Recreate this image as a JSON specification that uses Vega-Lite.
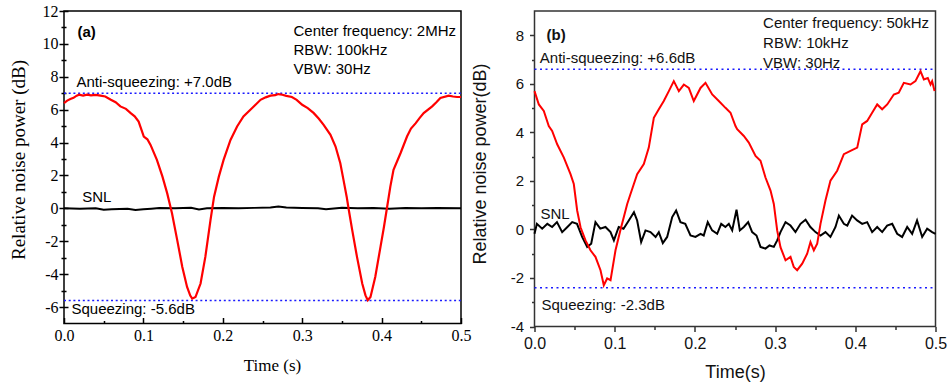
{
  "$schema": "https://vega.github.io/schema/vega-lite/v6.json",
  "background": "white",
  "padding": {"left": 8, "top": 2, "right": 0, "bottom": 0},
  "autosize": {"type": "pad"},
  "bounds": "flush",
  "spacing": 73.5,
  "config": {"axis": {"labelOverlap": false, "labelFlush": false, "grid": false}},
  "datasets": {
    "a_ref": [{"x": 0, "x2": 0.5, "y": 7.0}, {"x": 0, "x2": 0.5, "y": -5.6}],
    "b_ref": [{"x": 0, "x2": 0.5, "y": 6.6}, {"x": 0, "x2": 0.5, "y": -2.4}],
    "a_txt": [
      {"x": 0.289, "y": 10.81, "t": "Center frequency: 2MHz"},
      {"x": 0.289, "y": 9.65, "t": "RBW: 100kHz"},
      {"x": 0.289, "y": 8.49, "t": "VBW: 30Hz"},
      {"x": 0.0157, "y": 7.70, "t": "Anti-squeezing: +7.0dB"},
      {"x": 0.023, "y": 0.69, "t": "SNL"},
      {"x": 0.0094, "y": -6.14, "t": "Squeezing: -5.6dB"}
    ],
    "a_lab": [{"x": 0.017, "y": 10.75, "t": "(a)"}],
    "b_txt": [
      {"x": 0.285, "y": 8.50, "t": "Center frequency: 50kHz"},
      {"x": 0.285, "y": 7.68, "t": "RBW: 10kHz"},
      {"x": 0.285, "y": 6.86, "t": "VBW: 30Hz"},
      {"x": 0.0066, "y": 7.06, "t": "Anti-squeezing: +6.6dB"},
      {"x": 0.0075, "y": 0.64, "t": "SNL"},
      {"x": 0.0087, "y": -3.11, "t": "Squeezing: -2.3dB"}
    ],
    "b_lab": [{"x": 0.015, "y": 8.03, "t": "(b)"}],
    "a_red": [
      {"x": 0, "y": 6.40}, {"x": 0.004, "y": 6.55}, {"x": 0.008, "y": 6.65}, {"x": 0.012, "y": 6.72},
      {"x": 0.016, "y": 6.85}, {"x": 0.019, "y": 6.91}, {"x": 0.024, "y": 6.86}, {"x": 0.029, "y": 6.91},
      {"x": 0.034, "y": 6.87}, {"x": 0.040, "y": 6.90}, {"x": 0.046, "y": 6.85}, {"x": 0.052, "y": 6.80},
      {"x": 0.059, "y": 6.60}, {"x": 0.065, "y": 6.45}, {"x": 0.071, "y": 6.20}, {"x": 0.078, "y": 6.05},
      {"x": 0.084, "y": 5.79}, {"x": 0.089, "y": 5.60}, {"x": 0.094, "y": 5.28}, {"x": 0.1005, "y": 4.37},
      {"x": 0.105, "y": 4.20}, {"x": 0.109, "y": 3.86}, {"x": 0.117, "y": 2.95}, {"x": 0.124, "y": 1.93},
      {"x": 0.130, "y": 0.91}, {"x": 0.136, "y": -0.30}, {"x": 0.1426, "y": -1.93}, {"x": 0.149, "y": -3.56},
      {"x": 0.155, "y": -4.78}, {"x": 0.159, "y": -5.30}, {"x": 0.1615, "y": -5.49}, {"x": 0.1656, "y": -5.39},
      {"x": 0.172, "y": -4.57}, {"x": 0.178, "y": -2.95}, {"x": 0.1845, "y": -0.71}, {"x": 0.189, "y": 0.71},
      {"x": 0.195, "y": 1.93}, {"x": 0.201, "y": 2.95}, {"x": 0.2097, "y": 4.16}, {"x": 0.218, "y": 4.98},
      {"x": 0.226, "y": 5.59}, {"x": 0.237, "y": 6.10}, {"x": 0.2475, "y": 6.60}, {"x": 0.254, "y": 6.75},
      {"x": 0.260, "y": 6.85}, {"x": 0.266, "y": 6.88}, {"x": 0.270, "y": 6.95}, {"x": 0.275, "y": 6.91},
      {"x": 0.280, "y": 6.84}, {"x": 0.287, "y": 6.77}, {"x": 0.293, "y": 6.60}, {"x": 0.300, "y": 6.30},
      {"x": 0.307, "y": 6.10}, {"x": 0.3146, "y": 5.79}, {"x": 0.321, "y": 5.45}, {"x": 0.327, "y": 5.08},
      {"x": 0.3356, "y": 4.47}, {"x": 0.342, "y": 3.76}, {"x": 0.348, "y": 2.74}, {"x": 0.352, "y": 1.73},
      {"x": 0.356, "y": 0.71}, {"x": 0.3587, "y": -0.10}, {"x": 0.363, "y": -1.32}, {"x": 0.369, "y": -2.95},
      {"x": 0.3756, "y": -4.57}, {"x": 0.3797, "y": -5.29}, {"x": 0.3826, "y": -5.59}, {"x": 0.386, "y": -5.39},
      {"x": 0.392, "y": -4.17}, {"x": 0.3986, "y": -2.34}, {"x": 0.403, "y": -1.12}, {"x": 0.407, "y": 0.10},
      {"x": 0.411, "y": 1.32}, {"x": 0.415, "y": 2.34}, {"x": 0.4238, "y": 3.35}, {"x": 0.432, "y": 4.37},
      {"x": 0.437, "y": 4.85}, {"x": 0.443, "y": 5.18}, {"x": 0.448, "y": 5.50}, {"x": 0.453, "y": 5.79},
      {"x": 0.4637, "y": 6.20}, {"x": 0.469, "y": 6.45}, {"x": 0.474, "y": 6.71}, {"x": 0.4846, "y": 6.85},
      {"x": 0.490, "y": 6.80}, {"x": 0.495, "y": 6.77}, {"x": 0.5, "y": 6.77}
    ],
    "a_snl": [
      {"x": 0, "y": 0.0}, {"x": 0.02, "y": -0.03}, {"x": 0.04, "y": 0.0}, {"x": 0.05, "y": -0.08},
      {"x": 0.06, "y": -0.06}, {"x": 0.08, "y": -0.03}, {"x": 0.09, "y": -0.10}, {"x": 0.10, "y": -0.05},
      {"x": 0.11, "y": -0.02}, {"x": 0.12, "y": 0.02}, {"x": 0.14, "y": 0.0}, {"x": 0.16, "y": 0.03},
      {"x": 0.17, "y": -0.07}, {"x": 0.18, "y": 0.0}, {"x": 0.20, "y": 0.02}, {"x": 0.22, "y": 0.0},
      {"x": 0.24, "y": 0.03}, {"x": 0.26, "y": 0.06}, {"x": 0.27, "y": 0.12}, {"x": 0.28, "y": 0.05},
      {"x": 0.30, "y": 0.02}, {"x": 0.32, "y": 0.0}, {"x": 0.33, "y": -0.06}, {"x": 0.35, "y": 0.03},
      {"x": 0.37, "y": 0.0}, {"x": 0.39, "y": 0.02}, {"x": 0.41, "y": -0.03}, {"x": 0.43, "y": 0.02},
      {"x": 0.45, "y": 0.0}, {"x": 0.47, "y": 0.02}, {"x": 0.5, "y": 0.0}
    ],
    "b_red": [
      {"x": 0, "y": 5.70}, {"x": 0.0054, "y": 5.15}, {"x": 0.0116, "y": 4.88}, {"x": 0.0178, "y": 4.26},
      {"x": 0.022, "y": 4.06}, {"x": 0.0283, "y": 3.51}, {"x": 0.0366, "y": 2.96}, {"x": 0.0449, "y": 2.28},
      {"x": 0.049, "y": 1.87}, {"x": 0.0532, "y": 0.78}, {"x": 0.0574, "y": 0.09}, {"x": 0.0636, "y": -0.45},
      {"x": 0.0698, "y": -0.86}, {"x": 0.076, "y": -1.13}, {"x": 0.0823, "y": -1.68}, {"x": 0.0864, "y": -2.30},
      {"x": 0.0906, "y": -2.02}, {"x": 0.0948, "y": -2.09}, {"x": 0.101, "y": -0.86}, {"x": 0.107, "y": -0.04},
      {"x": 0.1156, "y": 1.05}, {"x": 0.1197, "y": 1.46}, {"x": 0.128, "y": 2.28}, {"x": 0.1363, "y": 2.69},
      {"x": 0.1425, "y": 3.37}, {"x": 0.1488, "y": 4.60}, {"x": 0.155, "y": 4.95}, {"x": 0.1612, "y": 5.29},
      {"x": 0.1675, "y": 5.70}, {"x": 0.1737, "y": 6.11}, {"x": 0.18, "y": 5.70}, {"x": 0.1862, "y": 5.97},
      {"x": 0.1924, "y": 5.83}, {"x": 0.1986, "y": 5.29}, {"x": 0.207, "y": 5.83}, {"x": 0.2132, "y": 6.04},
      {"x": 0.2216, "y": 5.56}, {"x": 0.2298, "y": 5.29}, {"x": 0.2381, "y": 5.01}, {"x": 0.2444, "y": 4.81},
      {"x": 0.2506, "y": 4.26}, {"x": 0.2527, "y": 4.13}, {"x": 0.261, "y": 3.85}, {"x": 0.2672, "y": 3.58},
      {"x": 0.2756, "y": 3.03}, {"x": 0.2818, "y": 2.83}, {"x": 0.288, "y": 2.14}, {"x": 0.2943, "y": 1.60},
      {"x": 0.2984, "y": 1.05}, {"x": 0.3026, "y": -0.04}, {"x": 0.3067, "y": -0.73}, {"x": 0.313, "y": -1.27},
      {"x": 0.3192, "y": -1.13}, {"x": 0.3233, "y": -1.55}, {"x": 0.3275, "y": -1.68}, {"x": 0.3338, "y": -1.41},
      {"x": 0.34, "y": -1.00}, {"x": 0.3441, "y": -0.52}, {"x": 0.3483, "y": -0.86}, {"x": 0.3525, "y": -0.59},
      {"x": 0.3566, "y": 0.23}, {"x": 0.3628, "y": 1.19}, {"x": 0.369, "y": 2.01}, {"x": 0.3774, "y": 2.42},
      {"x": 0.3857, "y": 3.10}, {"x": 0.394, "y": 3.24}, {"x": 0.4024, "y": 3.37}, {"x": 0.4086, "y": 4.33},
      {"x": 0.4148, "y": 4.47}, {"x": 0.421, "y": 4.81}, {"x": 0.4273, "y": 5.15}, {"x": 0.4335, "y": 4.95},
      {"x": 0.4398, "y": 5.15}, {"x": 0.448, "y": 5.56}, {"x": 0.4542, "y": 5.63}, {"x": 0.4605, "y": 6.04},
      {"x": 0.4688, "y": 5.97}, {"x": 0.475, "y": 6.11}, {"x": 0.4813, "y": 6.52}, {"x": 0.4855, "y": 6.18},
      {"x": 0.4904, "y": 6.24}, {"x": 0.4938, "y": 5.97}, {"x": 0.4958, "y": 6.11}, {"x": 0.4988, "y": 5.70}
    ],
    "b_snl": [
      {"x": 0, "y": -0.18}, {"x": 0.003, "y": 0.23}, {"x": 0.0096, "y": 0.03}, {"x": 0.016, "y": 0.23},
      {"x": 0.022, "y": 0.10}, {"x": 0.028, "y": 0.30}, {"x": 0.0345, "y": -0.11}, {"x": 0.041, "y": 0.10},
      {"x": 0.047, "y": 0.30}, {"x": 0.053, "y": 0.23}, {"x": 0.0594, "y": -0.31}, {"x": 0.0657, "y": -0.72},
      {"x": 0.0707, "y": -0.59}, {"x": 0.076, "y": 0.30}, {"x": 0.082, "y": 0.03}, {"x": 0.0885, "y": 0.10},
      {"x": 0.0948, "y": -0.11}, {"x": 0.099, "y": -0.45}, {"x": 0.105, "y": 0.10}, {"x": 0.111, "y": 0.03},
      {"x": 0.1176, "y": 0.37}, {"x": 0.124, "y": 0.71}, {"x": 0.128, "y": 0.37}, {"x": 0.133, "y": -0.52},
      {"x": 0.1384, "y": -0.04}, {"x": 0.1446, "y": -0.11}, {"x": 0.151, "y": -0.31}, {"x": 0.155, "y": -0.11},
      {"x": 0.160, "y": -0.56}, {"x": 0.1654, "y": -0.31}, {"x": 0.1717, "y": 0.51}, {"x": 0.1766, "y": 0.78},
      {"x": 0.182, "y": 0.30}, {"x": 0.188, "y": 0.23}, {"x": 0.1945, "y": -0.25}, {"x": 0.2007, "y": -0.31},
      {"x": 0.207, "y": -0.18}, {"x": 0.211, "y": -0.25}, {"x": 0.216, "y": 0.30}, {"x": 0.2215, "y": -0.04},
      {"x": 0.2278, "y": -0.18}, {"x": 0.2328, "y": 0.23}, {"x": 0.238, "y": 0.10}, {"x": 0.2423, "y": 0.23},
      {"x": 0.2465, "y": -0.04}, {"x": 0.2519, "y": 0.81}, {"x": 0.256, "y": -0.04}, {"x": 0.261, "y": 0.10},
      {"x": 0.2664, "y": 0.30}, {"x": 0.2714, "y": -0.11}, {"x": 0.2768, "y": -0.25}, {"x": 0.2818, "y": -0.72},
      {"x": 0.288, "y": -0.79}, {"x": 0.293, "y": -0.66}, {"x": 0.2984, "y": -0.72}, {"x": 0.3026, "y": -0.45},
      {"x": 0.3067, "y": -0.11}, {"x": 0.313, "y": 0.30}, {"x": 0.3192, "y": 0.16}, {"x": 0.3254, "y": -0.11},
      {"x": 0.3317, "y": 0.23}, {"x": 0.338, "y": 0.40}, {"x": 0.344, "y": 0.10}, {"x": 0.3504, "y": -0.11},
      {"x": 0.3566, "y": -0.25}, {"x": 0.3628, "y": -0.11}, {"x": 0.369, "y": -0.31}, {"x": 0.3753, "y": 0.10},
      {"x": 0.3795, "y": 0.57}, {"x": 0.3857, "y": 0.23}, {"x": 0.39, "y": 0.16}, {"x": 0.396, "y": 0.57},
      {"x": 0.4023, "y": 0.37}, {"x": 0.4086, "y": 0.23}, {"x": 0.4148, "y": 0.30}, {"x": 0.421, "y": -0.11},
      {"x": 0.4273, "y": 0.10}, {"x": 0.4335, "y": -0.11}, {"x": 0.4397, "y": 0.16}, {"x": 0.446, "y": 0.23},
      {"x": 0.4522, "y": -0.18}, {"x": 0.4584, "y": -0.31}, {"x": 0.4647, "y": 0.10}, {"x": 0.4709, "y": -0.18},
      {"x": 0.477, "y": 0.37}, {"x": 0.4834, "y": -0.31}, {"x": 0.4896, "y": 0.03}, {"x": 0.4958, "y": -0.11},
      {"x": 0.5, "y": -0.18}
    ]
  },
  "hconcat": [
    {
      "width": 397,
      "height": 312.5,
      "view": {"stroke": "black", "strokeWidth": 1.5},
      "encoding": {
        "x": {
          "field": "x", "type": "quantitative",
          "scale": {"domain": [0, 0.5], "nice": false, "zero": false},
          "axis": {
            "title": "Time (s)",
            "values": [0, 0.05, 0.1, 0.15, 0.2, 0.25, 0.3, 0.35, 0.4, 0.45, 0.5],
            "labelExpr": "round(datum.value*100) % 10 == 0 ? format(datum.value, '.1f') : ''",
            "offset": -6, "domain": false,
            "tickSize": 6, "tickColor": "black", "tickWidth": 1.5,
            "tickDash": {"condition": {"test": "round(datum.value*100) % 10 != 0", "value": [0, 3, 3]}, "value": [20, 0]},
            "labelFont": "Liberation Serif", "labelFontSize": 16, "labelColor": "black", "labelPadding": 4,
            "titleFont": "Liberation Serif", "titleFontSize": 17, "titleFontWeight": "normal", "titleColor": "black",
            "titleX": 208, "titleY": 48, "titleBaseline": "middle", "titleAlign": "center"
          }
        },
        "y": {
          "field": "y", "type": "quantitative",
          "scale": {"domain": [-7, 12], "nice": false, "zero": false},
          "axis": {
            "title": "Relative noise power (dB)",
            "values": [-6, -5, -4, -3, -2, -1, 0, 1, 2, 3, 4, 5, 6, 7, 8, 9, 10, 11, 12],
            "labelExpr": "datum.value % 2 == 0 ? '' + datum.value : ''",
            "offset": -4, "domain": false,
            "tickSize": 9, "tickColor": "black", "tickWidth": 1.5,
            "tickDash": {"condition": {"test": "datum.value % 2 != 0", "value": [0, 2, 5, 10]}, "value": [20, 0]},
            "labelFont": "Liberation Serif", "labelFontSize": 16, "labelColor": "black", "labelPadding": 1,
            "titleFont": "Liberation Serif", "titleFontSize": 19, "titleFontWeight": "normal", "titleColor": "black",
            "titleX": -49.5, "titleY": 148.5, "titleAngle": 270, "titleBaseline": "middle", "titleAlign": "center"
          }
        }
      },
      "layer": [
        {"data": {"name": "a_ref"}, "mark": {"type": "rule", "color": "#1a1aff", "strokeDash": [2, 2.7], "strokeWidth": 1.5}, "encoding": {"x2": {"field": "x2"}}},
        {"data": {"name": "a_snl"}, "mark": {"type": "line", "color": "black", "strokeWidth": 2}},
        {"data": {"name": "a_red"}, "mark": {"type": "line", "color": "#ff0000", "strokeWidth": 2.2}},
        {"data": {"name": "a_txt"}, "mark": {"type": "text", "align": "left", "baseline": "middle", "font": "Liberation Sans", "fontSize": 15, "color": "black"}, "encoding": {"text": {"field": "t"}}},
        {"data": {"name": "a_lab"}, "mark": {"type": "text", "align": "left", "baseline": "middle", "font": "Liberation Sans", "fontSize": 15, "fontWeight": "bold", "color": "black"}, "encoding": {"text": {"field": "t"}}}
      ]
    },
    {
      "width": 401,
      "height": 315.5,
      "view": {"stroke": "#333333", "strokeWidth": 1.5},
      "encoding": {
        "x": {
          "field": "x", "type": "quantitative",
          "scale": {"domain": [0, 0.5], "nice": false, "zero": false},
          "axis": {
            "title": "Time(s)",
            "values": [0, 0.05, 0.1, 0.15, 0.2, 0.25, 0.3, 0.35, 0.4, 0.45, 0.5],
            "labelExpr": "round(datum.value*100) % 10 == 0 ? format(datum.value, '.1f') : ''",
            "domain": false,
            "tickSize": 5, "tickColor": "#333333", "tickWidth": 1.5,
            "tickDash": {"condition": {"test": "round(datum.value*100) % 10 != 0", "value": [3, 10]}, "value": [20, 0]},
            "labelFont": "Liberation Sans", "labelFontSize": 16, "labelColor": "#111111", "labelPadding": 4,
            "titleFont": "Liberation Sans", "titleFontSize": 18, "titleFontWeight": "normal", "titleColor": "#111111",
            "titleX": 200.5, "titleY": 45.7, "titleBaseline": "middle", "titleAlign": "center"
          }
        },
        "y": {
          "field": "y", "type": "quantitative",
          "scale": {"domain": [-4, 9], "nice": false, "zero": false},
          "axis": {
            "title": "Relative noise power(dB)",
            "values": [-4, -3, -2, -1, 0, 1, 2, 3, 4, 5, 6, 7, 8],
            "labelExpr": "datum.value % 2 == 0 ? '' + datum.value : ''",
            "domain": false,
            "tickSize": 5, "tickColor": "#333333", "tickWidth": 1.5,
            "tickDash": {"condition": {"test": "datum.value % 2 != 0", "value": [3, 10]}, "value": [20, 0]},
            "labelFont": "Liberation Sans", "labelFontSize": 15, "labelColor": "#111111", "labelPadding": 6,
            "titleFont": "Liberation Sans", "titleFontSize": 18, "titleFontWeight": "normal", "titleColor": "#111111",
            "titleX": -54, "titleY": 152.5, "titleAngle": 270, "titleBaseline": "middle", "titleAlign": "center"
          }
        }
      },
      "layer": [
        {"data": {"name": "b_ref"}, "mark": {"type": "rule", "color": "#1a1aff", "strokeDash": [2, 3.5], "strokeWidth": 1.5}, "encoding": {"x2": {"field": "x2"}}},
        {"data": {"name": "b_snl"}, "mark": {"type": "line", "color": "black", "strokeWidth": 2}},
        {"data": {"name": "b_red"}, "mark": {"type": "line", "color": "#ff0000", "strokeWidth": 2}},
        {"data": {"name": "b_txt"}, "mark": {"type": "text", "align": "left", "baseline": "middle", "font": "Liberation Sans", "fontSize": 15, "color": "#111111"}, "encoding": {"text": {"field": "t"}}},
        {"data": {"name": "b_lab"}, "mark": {"type": "text", "align": "left", "baseline": "middle", "font": "Liberation Sans", "fontSize": 15, "fontWeight": "bold", "color": "#111111"}, "encoding": {"text": {"field": "t"}}}
      ]
    }
  ]
}
